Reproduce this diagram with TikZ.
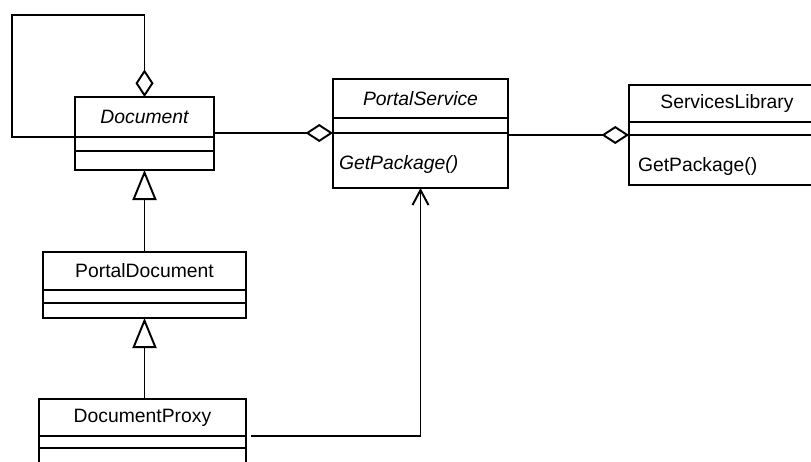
\documentclass[tikz,border=0pt]{standalone}
\usepackage{fontspec}
\setmainfont{Liberation Sans}
\usetikzlibrary{positioning, arrows.meta}

\begin{document}
\begin{tikzpicture}[
        classname/.style={% For the name part of a class
            rectangle,
            draw,
            line width=1.1pt,
            outer sep=0pt,
            inner sep=0pt,
            font=\fontsize{11}{13}\selectfont,
            },
        part/.style={% For the attribute and operation parts
            rectangle,
            draw,
            line width=1.1pt,
            outer sep=0pt,
            inner sep=0pt,
            },
        opspart/.style={% For parts that list operations
            part,
            inner xsep=.12cm,
            align=left,
            font=\fontsize{11}{13}\selectfont,
            },
        aggregation/.style={% Lines with a hollow diamond
            line width=1.1pt,
            -{Diamond[open,length=.55cm,width=.36cm]},
            },
        inherit/.style={% Lines with a hollow triangle
            line width=1.1pt,
            -{Triangle[open,length=.6cm,width=.48cm]},
            },
        uses/.style={% Lines with an open arrow
            line width=1.1pt,
            -{Straight Barb[length=.3cm,width=.32cm]},
            },
            ]
        \clip (0,0) rectangle (16.22,-9.24);
        \useasboundingbox (0,0) rectangle (16.22,-9.24);
        % Document
        \node [classname, minimum width=2.78cm, minimum height=.8cm] (doc) at (2.89,-2.34) {\itshape Document};
        \node [part, minimum width=2.78cm, minimum height=.28cm, below=0pt of doc] (doca) {};
        \node [part, minimum width=2.78cm, minimum height=.38cm, below=0pt of doca] (doco) {};
        % PortalService
        \node [classname, minimum width=3.5cm, minimum height=.78cm] (ps) at (8.41,-1.97) {\itshape PortalService};
        \node [part, minimum width=3.5cm, minimum height=.3cm, below=0pt of ps] (psa) {};
        \node [opspart, text width=3.26cm, text height=.46cm, minimum height=1.1cm, below=0pt of psa] (pso) {\itshape GetPackage()};
        % ServicesLibrary
        \node [classname, minimum width=3.92cm, minimum height=.74cm] (sl) at (14.54,-2.07) {ServicesLibrary};
        \node [part, minimum width=3.92cm, minimum height=.26cm, below=0pt of sl] (sla) {};
        \node [opspart, inner xsep=.18cm, text width=3.56cm, text height=.56cm, minimum height=1.cm, below=0pt of sla] (slo) {GetPackage()};
        % PortalDocument
        \node [classname, minimum width=4.06cm, minimum height=.76cm] (pd) at (2.89,-5.42) {PortalDocument};
        \node [part, minimum width=4.06cm, minimum height=.26cm, below=0pt of pd] (pda) {};
        \node [part, minimum width=4.06cm, minimum height=.3cm, below=0pt of pda] (pdo) {};
        % DocumentProxy
        \node [classname, minimum width=4.14cm, minimum height=.74cm] (dp) at (2.85,-8.35) {DocumentProxy};
        \node [part, minimum width=4.14cm, minimum height=.24cm, below=0pt of dp] (dpa) {};
        \node [part, minimum width=4.14cm, minimum height=.64cm, below=0pt of dpa] (dpo) {};
        % Connect all.
        \coordinate (loop) at (.24,-.3);
        \draw[aggregation] (doc.south west) -| (loop) -| (doc.north);
        \draw[aggregation] (psa.south west -| doc.east) -- (psa.south west);
        \draw[aggregation] (sla.south west -| psa.east) -- (sla.south west);
        \draw[inherit] (pd.north) -- (doco.south);
        \draw[inherit] (dp.north -| pdo.south) -- (pdo.south);
        \draw[uses] ([xshift=.1cm]dp.south east) -| (pso.south);
\end{tikzpicture}
\end{document}
